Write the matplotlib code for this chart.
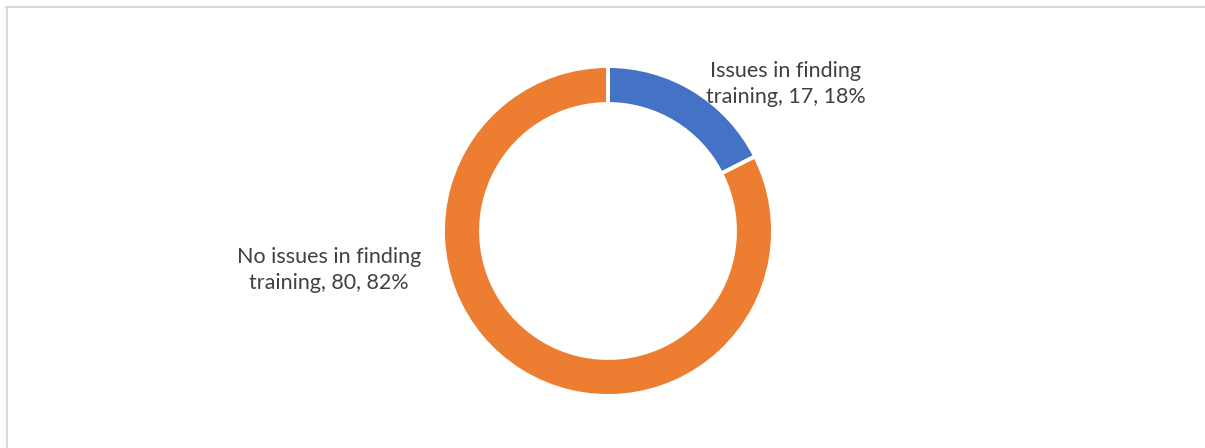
import matplotlib
matplotlib.use("Agg")
import matplotlib.pyplot as plt
from matplotlib.lines import Line2D

categories = ["Issues in finding training", "No issues in finding training"]
values = [17, 80]
colors = ["#4472C4", "#ED7D31"]

W, H = 1205, 448
fig = plt.figure(figsize=(W / 100, H / 100), dpi=100)
ax = fig.add_axes([0, 0, 1, 1])

# chart border (top and left visible)
fig.add_artist(Line2D([6 / W, 1], [1 - 7.5 / H, 1 - 7.5 / H], color="#D9D9D9", lw=1.5))
fig.add_artist(Line2D([7 / W, 7 / W], [0, 1 - 7.5 / H], color="#D9D9D9", lw=1.5))

cx, cy, R = 608, H - 231, 165
ring = 38
ax.pie(values, colors=colors, startangle=90, counterclock=False,
       center=(cx, cy), radius=R, frame=True,
       wedgeprops=dict(width=ring, edgecolor="white", linewidth=2.8))
ax.set_xlim(0, W)
ax.set_ylim(0, H)
ax.set_aspect("equal")
ax.axis("off")

total = sum(values)
def lab(cat, v):
    words = cat.split(" ")
    return " ".join(words[:-1]) + "\n" + words[-1] + f", {v}, {round(100 * v / total)}%"

font = ["Lato", "DejaVu Sans"]
ax.text(786, H - 84, lab(categories[0], values[0]), ha="center", va="center",
        fontsize=15.5, color="#404040", family=font, linespacing=1.38)
ax.text(329, H - 270, lab(categories[1], values[1]), ha="center", va="center",
        fontsize=15.5, color="#404040", family=font, linespacing=1.38)

fig.savefig("out.png", dpi=100, facecolor="white")
